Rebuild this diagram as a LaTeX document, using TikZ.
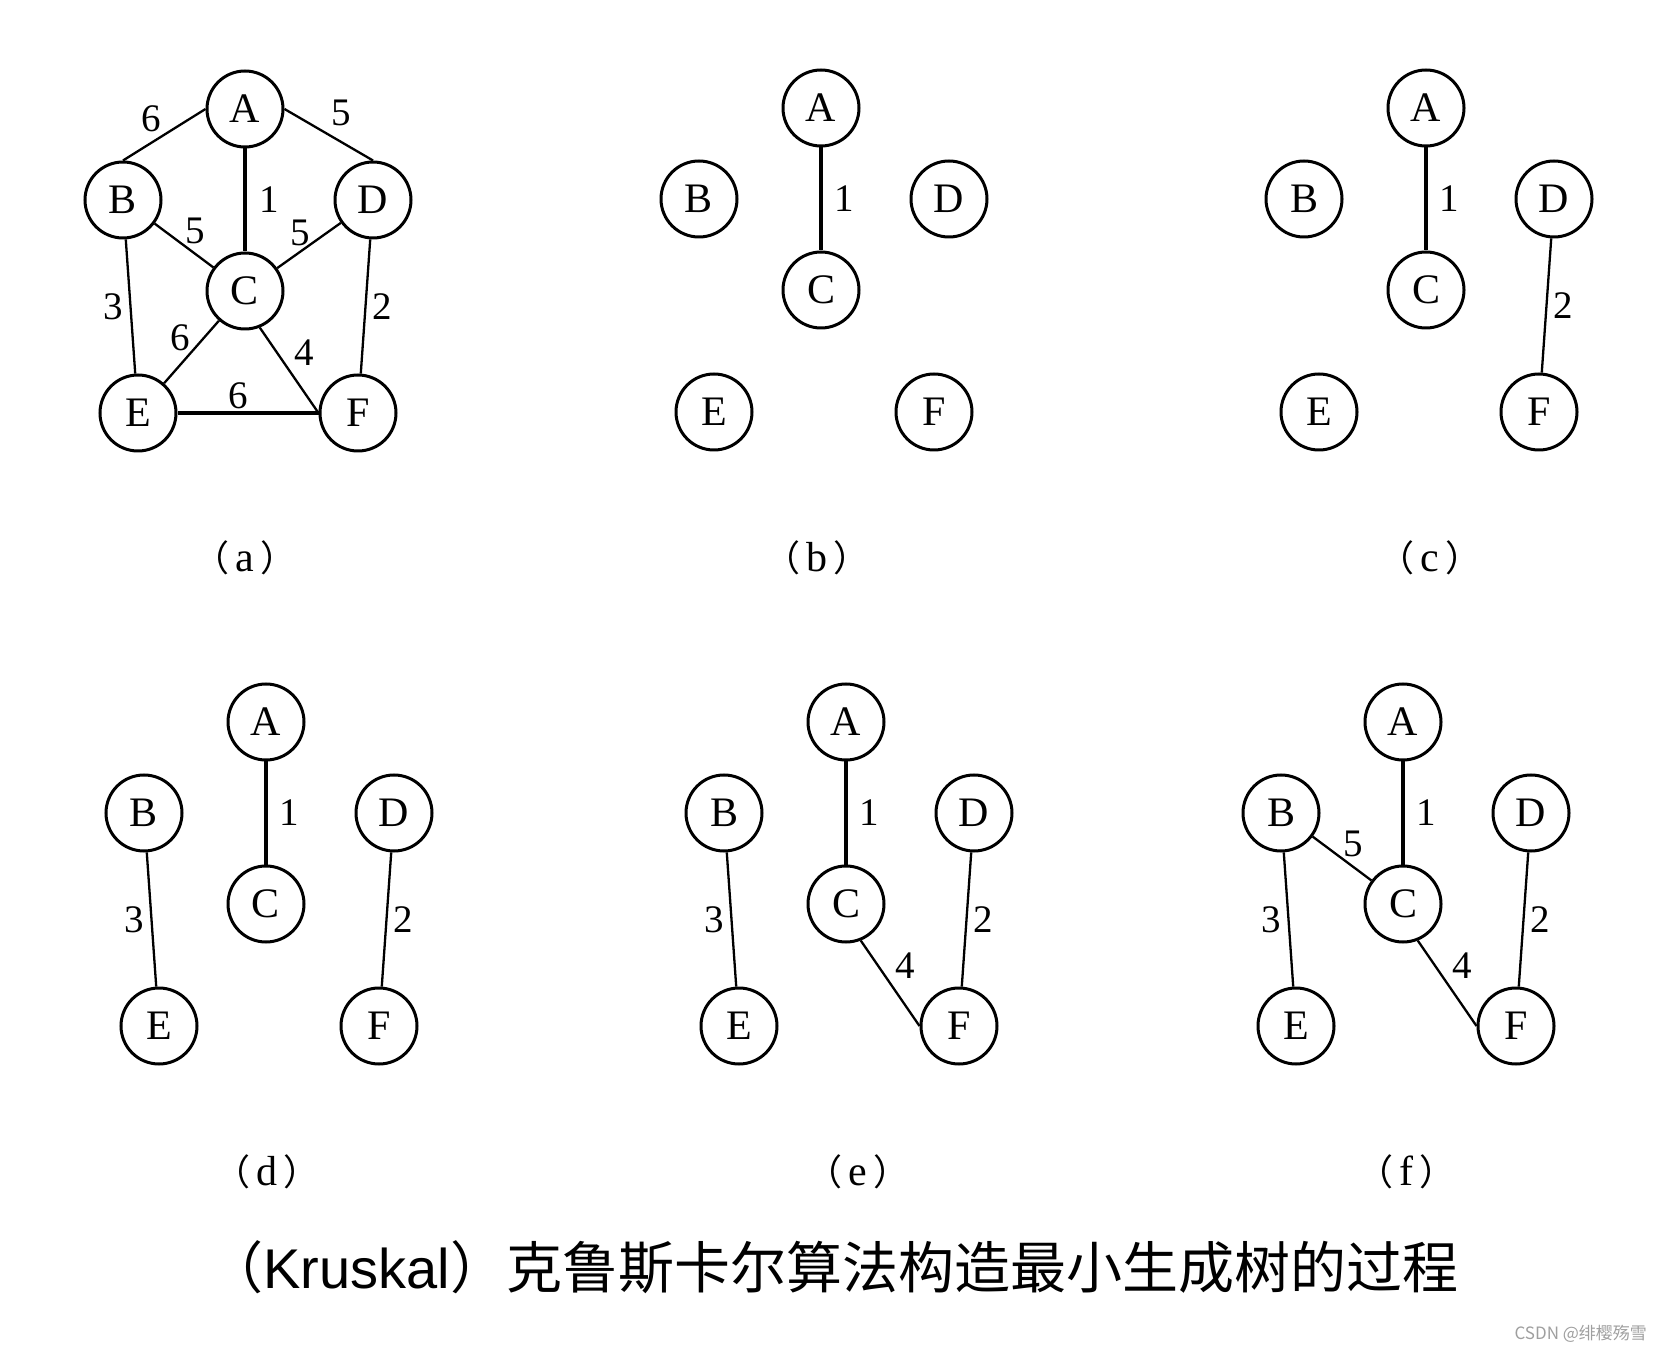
\documentclass[tikz,border=0pt]{standalone}
\usepackage{fontspec}
\setmainfont{Liberation Serif}
\newfontfamily\cjk{Noto Sans CJK SC}
\newfontfamily\capsans{Liberation Sans}

% 子图标号：全角括号
\newcommand{\panelcap}[1]{{\cjk\fontsize{18}{20}\selectfont （}\hspace{3pt}#1\hspace{3pt}{\cjk\fontsize{18}{20}\selectfont ）}}

\tikzset{
  vtx/.style={circle, draw, line width=1.5pt, minimum size=38pt, inner sep=0pt,
    font=\fontsize{21}{24}\selectfont},
  wire/.style={line width=1.15pt},
  bold wire/.style={line width=2pt},
  tree wire/.style={line width=1.6pt},
  wt/.style={inner sep=1pt, font=\fontsize{19.5}{22}\selectfont},
  sublabel/.style={font=\fontsize{21}{24}\selectfont},
}

\begin{document}
\begin{tikzpicture}[x=0.5pt, y=-0.5pt]
    \useasboundingbox (0,0) rectangle (1666,1352);

    % 六个子图的顶点
    \foreach \p/\ax/\ay in {a/245/109, b/821/108, c/1426/108, d/266/722, e/846/722, f/1403/722} {
        \node[vtx] (\p-A) at (\ax, \ay) {A};
        \node[vtx] (\p-B) at (\ax-122, \ay+91) {B};
        \node[vtx] (\p-D) at (\ax+128, \ay+91) {D};
        \node[vtx] (\p-C) at (\ax, \ay+182) {C};
        \node[vtx] (\p-E) at (\ax-107, \ay+304) {E};
        \node[vtx] (\p-F) at (\ax+113, \ay+304) {F};
    }

    % (a) 原图
    \draw[wire] (a-B.north) -- (a-A.west) node[wt, midway, above left] {6};
    \draw[wire] (a-A.east) -- (a-D.north) node[wt, midway, above right, yshift=3pt] {5};
    \draw[bold wire] (a-A) -- (a-C) node[wt, midway, right=5pt] {1};
    \draw[wire] (a-B) -- (a-C) node[wt, midway, above right=-1pt] {5};
    \draw[wire] (a-C) -- (a-D) node[wt, midway, above left=-2pt] {5};
    \draw[wire] (a-B) -- (a-E) node[wt, midway, left=2pt] {3};
    \draw[wire] (a-D) -- (a-F) node[wt, midway, right=2pt] {2};
    \draw[wire] (a-C) -- (a-E) node[wt, midway, above left=-1pt] {6};
    \draw[wire] (a-C.-68) -- (a-F.west) node[wt, midway, above right=1pt] {4};
    \draw[bold wire] (a-E) -- (a-F.west) node[wt, pos=.43, above] {6};

    % (b) 选边 1
    \draw[tree wire] (b-A) -- (b-C) node[wt, midway, right=5pt] {1};

    % (c) 选边 2
    \draw[tree wire] (c-A) -- (c-C) node[wt, midway, right=5pt] {1};
    \draw[wire] (c-D) -- (c-F) node[wt, midway, right=2pt] {2};

    % (d) 选边 3
    \draw[tree wire] (d-A) -- (d-C) node[wt, midway, right=5pt] {1};
    \draw[wire] (d-B) -- (d-E) node[wt, midway, left=2pt] {3};
    \draw[wire] (d-D) -- (d-F) node[wt, midway, right=2pt] {2};

    % (e) 选边 4
    \draw[tree wire] (e-A) -- (e-C) node[wt, midway, right=5pt] {1};
    \draw[wire] (e-B) -- (e-E) node[wt, midway, left=2pt] {3};
    \draw[wire] (e-D) -- (e-F) node[wt, midway, right=2pt] {2};
    \draw[wire] (e-C.-68) -- (e-F.west) node[wt, midway, above right=1pt] {4};

    % (f) 选边 5，得到最小生成树
    \draw[tree wire] (f-A) -- (f-C) node[wt, midway, right=5pt] {1};
    \draw[wire] (f-B) -- (f-E) node[wt, midway, left=2pt] {3};
    \draw[wire] (f-D) -- (f-F) node[wt, midway, right=2pt] {2};
    \draw[wire] (f-C.-68) -- (f-F.west) node[wt, midway, above right=1pt] {4};
    \draw[wire] (f-B) -- (f-C) node[wt, midway, above right=-1pt] {5};

    % 子图标号
    \node[sublabel] (cap-a) at (245,558) {\panelcap{a}};
    \node[sublabel] (cap-b) at (817,558) {\panelcap{b}};
    \node[sublabel] (cap-c) at (1430,558) {\panelcap{c}};
    \node[sublabel] (cap-d) at (267,1172) {\panelcap{d}};
    \node[sublabel] (cap-e) at (858,1172) {\panelcap{e}};
    \node[sublabel] (cap-f) at (1406,1172) {\panelcap{f}};

    % 总标题
    \node[font=\fontsize{28}{32}\selectfont] (title) at (833,1267)
        {{\cjk （}{\capsans Kruskal}{\cjk ）克鲁斯卡尔算法构造最小生成树的过程}};

    % 水印
    \node[text=gray!75, font=\cjk\fontsize{8.5}{10}\selectfont, anchor=east] (mark) at (1654,1334)
        {CSDN @绯樱殇雪};
\end{tikzpicture}
\end{document}
